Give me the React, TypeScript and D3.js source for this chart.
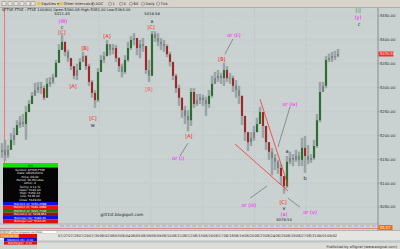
import React from 'react';
import * as d3 from 'd3';

// ---- data (hourly FTSE 100 bars) ----
const closes = [
  5170,5159,5170,5191,5201,5222,5228,5224,5249,5266,
  5283,5295,5302,5299,5279,5308,5312,5322,5352,5379,
  5396,5375,5362,5345,5325,5337,5354,5366,5345,5312,
  5289,5274,5333,5358,5366,5391,5379,5383,5362,5345,
  5333,5358,5383,5400,5404,5383,5391,5387,5337,5325,
  5412,5404,5396,5391,5387,5370,5354,5325,5299,5279,
  5253,5241,5232,5291,5266,5274,5279,5274,5266,5283,
  5308,5320,5325,5320,5337,5320,5320,5304,5295,5283,
  5241,5207,5186,5195,5207,5224,5249,5220,5186,5166,
  5153,5145,5132,5115,5094,5145,5153,5149,5157,5149,
  5174,5157,5149,5153,5178,5232,5291,5304,5358,5362,
  5366,5366,5370.53,
];
const highs = [
  5184,5191,5180,5205,5216,5232,5241,5245,5262,5274,
  5291,5310,5312,5312,5304,5320,5322,5329,5358,5391,
  5411.45,5389,5379,5362,5345,5350,5362,5375,5368,5350,
  5316,5295,5341,5368,5375,5400,5391,5391,5389,5364,
  5350,5368,5396,5408,5414,5404,5400,5404,5383,5358,
  5418.58,5418,5414,5404,5400,5391,5375,5354,5329,5306,
  5274,5262,5253,5299,5299,5287,5287,5285,5281,5295,
  5325,5333,5337,5331,5352,5345,5331,5325,5316,5304,
  5283,5237,5201,5207,5220,5237,5260,5249,5216,5180,
  5174,5161,5149,5140,5115,5157,5166,5161,5170,5166,
  5195,5199,5180,5161,5191,5245,5312,5312,5366,5371,
  5375,5377,5381,
];
const lows = [
  5153,5147,5153,5174,5180,5207,5216,5218,5191,5253,
  5270,5283,5289,5287,5274,5295,5302,5308,5322,5362,
  5383,5366,5354,5337,5318,5316,5341,5358,5337,5304,
  5279,5258,5270,5337,5352,5370,5368,5370,5354,5333,
  5322,5329,5354,5379,5389,5368,5362,5375,5329,5312,
  5329,5396,5387,5379,5375,5364,5345,5316,5289,5262,
  5237,5224,5209,5220,5258,5262,5266,5262,5241,5258,
  5279,5308,5312,5308,5304,5312,5308,5291,5279,5266,
  5222,5189,5168,5178,5189,5209,5230,5195,5170,5149,
  5117,5128,5120,5097,5078.54,5090,5140,5136,5145,5136,
  5136,5122,5140,5143,5149,5174,5228,5291,5299,5354,
  5354,5358,5364,
];
const firstOpen = 5165;
const priceTicks = [5450, 5400, 5350, 5300, 5250, 5200, 5150, 5100, 5050];
const dates = ['07/27','07/28','07/29','07/30','08/02','08/03','08/04','08/05','08/06','08/09','08/10','08/11','08/12','08/13','08/16','08/17','08/18','08/19','08/20','08/23','08/24','08/25','08/26','08/27','08/31','09/01','09/02'];
const weekStarts = ['08/02','08/09','08/16','08/23','08/31'];
const lastPrice = 5370.53;
const oscValue = '55.57';

// wave labels: [text, bar index, price, colour kind]
const waveLabels: [string, number, number, string][] = [
  ['5411.45', 20, 5455, 'k'], ['(W)', 20.3, 5438, 'm'], ['c', 20, 5427, 'k'], ['[C]', 20, 5417, 'r'],
  ['[A]', 23.7, 5303, 'r'], ['[B]', 27.7, 5383, 'r'], ['[C]', 30.3, 5236, 'r'], ['w', 30.3, 5222, 'k'],
  ['[A]', 35, 5408, 'r'],
  ['5418.58', 50, 5455, 'k'], ['x', 50, 5440, 'k'], ['[C]', 49.7, 5427, 'r'],
  ['[B]', 49, 5297, 'r2'], ['[A]', 62.3, 5199, 'r'], ['or (i)', 58.7, 5153, 'm'],
  ['[B]', 73.3, 5360, 'r'], ['or (ii)', 77.3, 5410, 'm'], ['or (iv)', 96, 5266, 'm'],
  ['a', 95, 5168, 'k'], ['b', 101, 5111, 'k'], ['or (iii)', 82.3, 5055, 'm'],
  ['[C]', 93.7, 5061, 'r'], ['v', 94, 5048, 'k'], ['(a)', 94, 5036, 'm'], ['5078.54', 94, 5023, 'k'],
  ['or (v)', 102.7, 5040, 'm'],
  ['[i]', 118.7, 5461, 'g'], ['(y)', 118.7, 5448, 'm'], ['c', 119, 5433, 'k'],
];
// thin pointer lines [i1, p1, i2, p2]
const pointers: [number, number, number, number][] = [
  [59.3, 5157, 62, 5184],
  [77, 5402, 74.3, 5370],
  [82.7, 5069, 88.3, 5094],
  [96, 5260, 92, 5176],
  [95.3, 5069, 99.3, 5050],
];
const trendLines: [number, number, number, number][] = [
  [86, 5276, 95.3, 5096],
  [77.7, 5182, 95.3, 5084],
];

const infoRows = ['Symbol: $FTSE-FTSE', 'Date: 08/26/2010', 'Time: 09:00', 'Period: 60 Minutes', 'OHLC: 4', '%Chg: 0.11 %', 'Open: 5142.00', 'High: 5152.24', 'Low: 5138.43', 'Close: 5149.64'];
const studyRows: [string, string][] = [
  ['MA(10,C,0): 5150.2588', '#1010e0'], ['MA(20,C,0): 5181.2988', '#f01010'], ['MA(50,C,0): 5221.7746', '#108010'],
  ['MA(100,C,0): 5218.854', '#a01010'], ['Bollinger Upr: 5183.30', '#1010e0'], ['Bollinger Lwr: 5110.25', '#e01010'],
  ['Bollinger Mid: 5147.33', '#f06080'], ['Volume: 0', '#1010e0'],
];

const W = 400, H = 249;
const plotTop = 8, plotBottom = 224, axisX = 378;
const FONT = 'DejaVu Sans, Liberation Sans, sans-serif';
const colorOf: Record<string, string> = { k: '#1a1a1a', m: '#ff00ff', r: '#ff1010', r2: '#ff5a5a', g: '#2f8f2f' };

export default function App() {
  const x = d3.scaleLinear().domain([0, closes.length - 1]).range([2, 338]);
  const y = d3.scaleLinear().domain([5050, 5450]).range([207.2, 16]);
  const dx = d3.scalePoint<string>().domain(dates).range([58, 327]);
  const fmt = d3.format('.2f');

  const bars = closes.map((c, i) => {
    const o = i === 0 ? firstOpen : closes[i - 1];
    return { i, o, c, h: Math.max(highs[i], o, c), l: Math.min(lows[i], o, c) };
  });

  return (
    <svg width={W} height={H} style={{ position: 'fixed', left: 0, top: 0, fontFamily: FONT }}>
      <defs>
        <clipPath id="plot"><rect x={0} y={plotTop} width={axisX} height={plotBottom - plotTop} /></clipPath>
      </defs>
      <rect width={W} height={H} fill="#c9d1d1" />

      {/* toolbar */}
      <rect x={0} y={0} width={W} height={7.5} fill="#d8d4cc" />
      <line x1={0} x2={W} y1={7.5} y2={7.5} stroke="#9a968e" strokeWidth={0.6} />
      {[2, 8, 14, 20, 26, 31].map((px) => (
        <rect key={px} x={px} y={1.8} width={4} height={4} fill="#e8e6e0" stroke="#6a6a6a" strokeWidth={0.4} />
      ))}
      <rect x={37} y={2.2} width={3.5} height={3} fill="#e8c040" />
      <text x={41.5} y={5.4} fontSize={3.6} fill="#222">Equities ▾</text>
      <rect x={59} y={2.2} width={3.5} height={3} fill="#e8c040" />
      <text x={63.5} y={5.4} fontSize={3.6} fill="#222">Other Intervals ▾</text>
      {[['ADC', 93], ['1', 110], ['5', 121], ['60', 131], ['Daily', 143], ['Tick', 158]].map(([t, px]) => (
        <g key={t as string}>
          <circle cx={(px as number)} cy={3.8} r={1.6} fill="none" stroke="#555" strokeWidth={0.4} />
          <text x={(px as number) + 2.6} y={5.4} fontSize={3.6} fill="#222">{t}</text>
        </g>
      ))}

      {/* grid */}
      {priceTicks.map((p) => (
        <line key={p} x1={0} x2={axisX} y1={y(p)} y2={y(p)} stroke="#b8c1c1" strokeWidth={0.5} strokeDasharray="1,1" />
      ))}
      {weekStarts.map((d) => (
        <line key={d} x1={dx(d)} x2={dx(d)} y1={plotTop} y2={plotBottom} stroke="#b3bcbc" strokeWidth={0.5} strokeDasharray="1,1" />
      ))}
      <line x1={4.5} x2={4.5} y1={plotTop} y2={plotBottom} stroke="#ff5050" strokeWidth={0.7} />

      {/* title */}
      <text x={2} y={11} fontSize={3.7} fill="#202020">$FTSE-FTSE : FTSE 100(60) Open:5360.08 High:5381.00 Low:5364.00</text>

      {/* candles */}
      <g clipPath="url(#plot)">
        {bars.map((b) => {
          const cx = x(b.i);
          const up = b.c >= b.o;
          const big = Math.abs(b.c - b.o) >= 15;
          const body = big ? (up ? '#1e6a1e' : '#a81818') : '#7a8383';
          const yt = y(Math.max(b.o, b.c)), yb = y(Math.min(b.o, b.c));
          return (
            <g key={b.i}>
              <rect x={cx - 1.4} y={y(b.h)} width={2.8} height={y(b.l) - y(b.h)} fill="#a6afaf" opacity={0.8} />
              <line x1={cx} x2={cx} y1={y(b.h)} y2={y(b.l)} stroke="#808a8a" strokeWidth={0.8} />
              <rect x={cx - 0.9} y={yt} width={1.8} height={Math.max(0.8, yb - yt)} fill={body} />
            </g>
          );
        })}
        {trendLines.map(([i1, p1, i2, p2], k) => (
          <line key={k} x1={x(i1)} y1={y(p1)} x2={x(i2)} y2={y(p2)} stroke="#ff3030" strokeWidth={0.8} />
        ))}
        {pointers.map(([i1, p1, i2, p2], k) => (
          <line key={k} x1={x(i1)} y1={y(p1)} x2={x(i2)} y2={y(p2)} stroke="#404848" strokeWidth={0.5} />
        ))}
        {waveLabels.map(([t, i, p, c], k) => (
          <text key={k} x={x(i)} y={y(p)} dy="0.35em" textAnchor="middle"
            fontSize={/^\d/.test(t) ? 3.8 : 5} fill={colorOf[c]}>{t}</text>
        ))}
        <text x={122} y={216} textAnchor="middle" fontSize={4.2} fill="#1a1a1a">gilt1st.blogspot.com</text>
      </g>

      {/* info box */}
      <rect x={3} y={163} width={55} height={4.5} fill="#10e010" />
      <text x={30.5} y={166.5} textAnchor="middle" fontSize={3} fill="#003000">RH</text>
      <rect x={3} y={167.5} width={55} height={34.5} fill="#050505" />
      {infoRows.map((t, k) => (
        <text key={t} x={30} y={171 + k * 3.3} textAnchor="middle" fontSize={2.9} fill="#f0f0f0">{t}</text>
      ))}
      {studyRows.map(([t, c], k) => (
        <g key={t}>
          <rect x={3} y={202 + k * 3.5} width={55} height={3.5} fill={c} />
          <text x={30} y={204.9 + k * 3.5} textAnchor="middle" fontSize={2.8} fill="#ffffff">{t}</text>
        </g>
      ))}

      {/* oscillator strip */}
      <rect x={0} y={plotBottom} width={axisX} height={6.5} fill="#cfd4d4" />
      <line x1={0} x2={axisX} y1={plotBottom} y2={plotBottom} stroke="#8a9292" strokeWidth={0.5} />
      <line x1={60} x2={axisX} y1={226} y2={226} stroke="#b070d0" strokeWidth={0.6} strokeDasharray="4,2" />
      <line x1={0} x2={axisX} y1={228.5} y2={228.5} stroke="#e05050" strokeWidth={0.6} />

      {/* right axis */}
      <line x1={axisX} x2={axisX} y1={plotTop} y2={231} stroke="#6e7474" strokeWidth={0.7} />
      {priceTicks.map((p) => (
        <g key={p}>
          <line x1={axisX} x2={axisX + 1.5} y1={y(p)} y2={y(p)} stroke="#6e7474" strokeWidth={0.5} />
          <text x={380} y={y(p)} dy="0.35em" fontSize={3.7} fill="#202020">{fmt(p)}</text>
        </g>
      ))}
      <rect x={378.5} y={y(lastPrice) - 2.5} width={15} height={5} fill="#ff2a2a" />
      <text x={380} y={y(lastPrice)} dy="0.35em" fontSize={3.7} fill="#ffffff">{fmt(lastPrice)}</text>
      <rect x={378.5} y={225} width={14} height={5} fill="#ff6a00" />
      <text x={380} y={228.8} fontSize={3.7} fill="#ffffff">{oscValue}</text>

      {/* scroll row + date axis */}
      <rect x={0} y={230.5} width={W} height={9.5} fill="#e4e4e0" />
      <line x1={0} x2={W} y1={230.5} y2={230.5} stroke="#8c8c88" strokeWidth={0.5} />
      <rect x={0} y={230.8} width={4} height={3} fill="#d0ccc4" stroke="#777" strokeWidth={0.3} />
      <rect x={4.5} y={230.8} width={4} height={3} fill="#d0ccc4" stroke="#777" strokeWidth={0.3} />
      <rect x={10} y={230.8} width={47} height={3} fill="#ffffff" stroke="#888" strokeWidth={0.3} />
      <text x={11} y={233.2} fontSize={2.4} fill="#222">gilt1st.blogspot.com/2010</text>
      {dates.map((d) => (
        <text key={d} x={dx(d)} y={237} fontSize={3.5} fill="#202020">{d}</text>
      ))}
      <rect x={0} y={234} width={19} height={4} fill="#ff7a20" />
      <text x={1} y={237.1} fontSize={3} fill="#ffffff">5120 09:00</text>
      <rect x={19} y={234} width={18} height={4} fill="#e01010" />
      <rect x={4} y={238} width={33} height={3.3} fill="#1010e0" />
      <rect x={4} y={241.3} width={33} height={3.3} fill="#e01010" />
      <text x={20} y={240.6} textAnchor="middle" fontSize={2.6} fill="#fff">MACD(12,26): -0.38</text>
      <text x={20} y={243.9} textAnchor="middle" fontSize={2.6} fill="#fff">MACDSig(9): -5.24</text>

      {/* status bar */}
      <rect x={37} y={242} width={W - 37} height={7} fill="#dcdcd8" />
      <line x1={37} x2={W} y1={242} y2={242} stroke="#a0a09c" strokeWidth={0.5} />
      <text x={397} y={247.6} textAnchor="end" fontSize={3.5} fill="#333">Published by eSignal (www.esignal.com)</text>
    </svg>
  );
}
